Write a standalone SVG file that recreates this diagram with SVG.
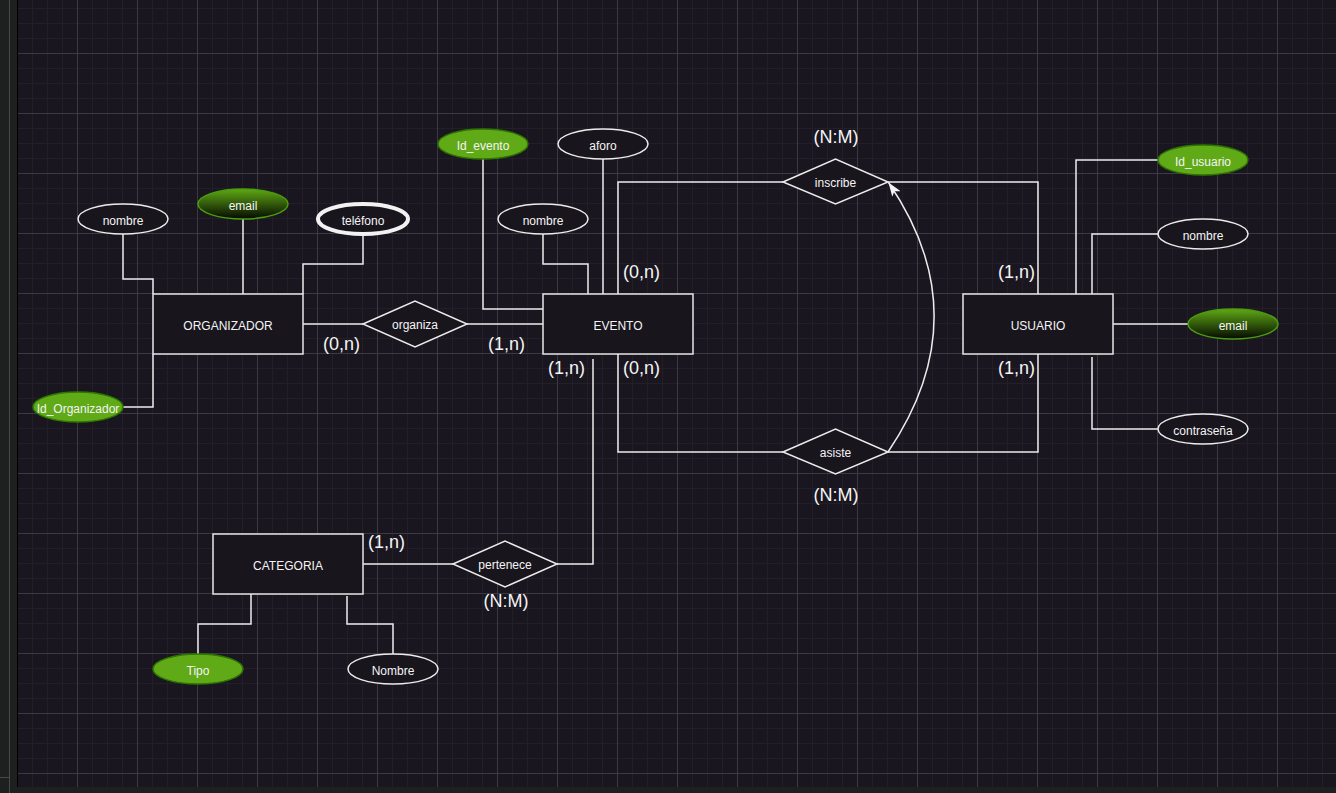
<svg xmlns="http://www.w3.org/2000/svg" width="1336" height="793" viewBox="0 0 1336 793">
<style>
.bg{fill:#19161f}
.ent{fill:#18151d;stroke:#e6e6e6;stroke-width:1.5}
.rel{fill:#18151d;stroke:#ececec;stroke-width:1.5}
.att{fill:#18151d;stroke:#ececec;stroke-width:1.5}
.multi{fill:#18151d;stroke:#f2f2f2;stroke-width:4}
.key{fill:#60a917;stroke:#2d7600;stroke-width:1.5}
.grad{fill:url(#gr);stroke:#4a9e0e;stroke-width:1.5}
.t{font-family:"Liberation Sans",Arial,Helvetica,sans-serif;font-size:12px;fill:#f4f4f4;text-anchor:middle}
.card{font-family:"Liberation Sans",Arial,Helvetica,sans-serif;font-size:18px;fill:#f4f4f4}
.ln{fill:none;stroke:#ececec;stroke-width:1.5}
</style>
<defs>
<pattern id="grid" patternUnits="userSpaceOnUse" x="17" y="-7" width="60" height="60">
<rect width="60" height="60" fill="#19161f"/>
<rect x="15" y="0" width="1" height="60" fill="#231f29"/>
<rect x="30" y="0" width="1" height="60" fill="#231f29"/>
<rect x="45" y="0" width="1" height="60" fill="#231f29"/>
<rect x="0" y="15" width="60" height="1" fill="#231f29"/>
<rect x="0" y="30" width="60" height="1" fill="#231f29"/>
<rect x="0" y="45" width="60" height="1" fill="#231f29"/>
<rect x="0" y="0" width="1" height="60" fill="#3b3942"/>
<rect x="0" y="0" width="60" height="1" fill="#3b3942"/>
</pattern>
<linearGradient id="gr" x1="0" y1="0" x2="0" y2="1">
<stop offset="0" stop-color="#5fa815"/>
<stop offset="1" stop-color="#050a01"/>
</linearGradient>
<marker id="arr" markerUnits="userSpaceOnUse" viewBox="0 0 14 10" refX="14" refY="5" markerWidth="14" markerHeight="10" orient="auto">
<path d="M0,0 L14,5 L0,10 L3.5,5 Z" fill="#f4f4f4"/>
</marker>
</defs>

<rect x="0" y="0" width="1336" height="793" fill="#1e1f1f"/>
<rect x="17" y="0" width="1319" height="787" fill="url(#grid)"/>
<rect x="17" y="0" width="1" height="787" fill="#000"/>
<rect x="9" y="0" width="1" height="793" fill="#474a4a"/>
<rect x="0" y="777" width="9" height="1" fill="#474a4a"/>

<g id="connectors">
<path class="ln" d="M123,234 V279 H153 V294"/>
<path class="ln" d="M243,219 V295"/>
<path class="ln" d="M363,234 V264 H303 V294"/>
<path class="ln" d="M123,407 H153 V354"/>
<path class="ln" d="M303,324 H363"/>
<path class="ln" d="M467,324 H543"/>
<path class="ln" d="M483,159 V309 H543"/>
<path class="ln" d="M603,159 V294"/>
<path class="ln" d="M543,234 V264 H588 V294"/>
<path class="ln" d="M618,294 V182 H783"/>
<path class="ln" d="M618,354 V452 H783"/>
<path class="ln" d="M593,359 V564 H557"/>
<path class="ln" d="M888,182 H1038 V294"/>
<path class="ln" d="M888,452 H1038 V354"/>
<path class="ln" d="M888,452 Q980,316 888.5,182.5" marker-end="url(#arr)"/>
<path class="ln" d="M1158,160 H1076 V294"/>
<path class="ln" d="M1158,234 H1092 V294"/>
<path class="ln" d="M1113,324 H1188"/>
<path class="ln" d="M1158,429 H1092 V357"/>
<path class="ln" d="M363,564 H453"/>
<path class="ln" d="M198,654 V624 H251 V594"/>
<path class="ln" d="M393,654 V624 H347 V596"/>
</g>

<g id="organizador"><rect class="ent" x="153" y="294" width="150" height="60"/><text class="t" x="228" y="330">ORGANIZADOR</text></g>
<g id="org-nombre"><ellipse class="att" cx="123" cy="219" rx="45" ry="15"/><text class="t" x="123" y="225">nombre</text></g>
<g id="org-email"><ellipse class="grad" cx="243" cy="204" rx="45" ry="15"/><text class="t" x="243" y="210">email</text></g>
<g id="org-telefono"><ellipse class="multi" cx="363" cy="219" rx="45" ry="15"/><text class="t" x="363" y="225">teléfono</text></g>
<g id="org-id"><ellipse class="key" cx="78" cy="407" rx="45" ry="15"/><text class="t" x="78" y="413">Id_Organizador</text></g>

<g id="organiza"><polygon class="rel" points="363,324 415,301 467,324 415,347"/><text class="t" x="415" y="329">organiza</text></g>

<g id="evento"><rect class="ent" x="543" y="294" width="150" height="60"/><text class="t" x="618" y="330">EVENTO</text></g>
<g id="ev-id"><ellipse class="key" cx="483" cy="144" rx="45" ry="15"/><text class="t" x="483" y="150">Id_evento</text></g>
<g id="ev-aforo"><ellipse class="att" cx="603" cy="144" rx="45" ry="15"/><text class="t" x="603" y="150">aforo</text></g>
<g id="ev-nombre"><ellipse class="att" cx="543" cy="219" rx="45" ry="15"/><text class="t" x="543" y="225">nombre</text></g>

<g id="inscribe"><polygon class="rel" points="783,182 835.5,159 888,182 835.5,204"/><text class="t" x="835.5" y="187">inscribe</text></g>
<g id="asiste"><polygon class="rel" points="783,452 835.5,429 888,452 835.5,474"/><text class="t" x="835.5" y="457">asiste</text></g>

<g id="usuario"><rect class="ent" x="963" y="294" width="150" height="60"/><text class="t" x="1038" y="330">USUARIO</text></g>
<g id="us-id"><ellipse class="key" cx="1203" cy="160" rx="45" ry="15"/><text class="t" x="1203" y="166">Id_usuario</text></g>
<g id="us-nombre"><ellipse class="att" cx="1203" cy="234" rx="45" ry="15"/><text class="t" x="1203" y="240">nombre</text></g>
<g id="us-email"><ellipse class="grad" cx="1233" cy="324" rx="45" ry="15"/><text class="t" x="1233" y="330">email</text></g>
<g id="us-pass"><ellipse class="att" cx="1203" cy="429" rx="45" ry="15"/><text class="t" x="1203" y="435">contraseña</text></g>

<g id="categoria"><rect class="ent" x="213" y="534" width="150" height="60"/><text class="t" x="288" y="570">CATEGORIA</text></g>
<g id="cat-tipo"><ellipse class="key" cx="198" cy="669" rx="45" ry="15"/><text class="t" x="198" y="675">Tipo</text></g>
<g id="cat-nombre"><ellipse class="att" cx="393" cy="669" rx="45" ry="15"/><text class="t" x="393" y="675">Nombre</text></g>
<g id="pertenece"><polygon class="rel" points="453,564 505,541 557,564 505,587"/><text class="t" x="505" y="569">pertenece</text></g>

<g id="labels">
<text class="card" x="323" y="350">(0,n)</text>
<text class="card" x="488" y="350">(1,n)</text>
<text class="card" x="623" y="278">(0,n)</text>
<text class="card" x="548" y="374">(1,n)</text>
<text class="card" x="623" y="374">(0,n)</text>
<text class="card" x="836" y="143" text-anchor="middle">(N:M)</text>
<text class="card" x="836" y="501" text-anchor="middle">(N:M)</text>
<text class="card" x="998" y="278">(1,n)</text>
<text class="card" x="998" y="374">(1,n)</text>
<text class="card" x="368" y="548">(1,n)</text>
<text class="card" x="506" y="607" text-anchor="middle">(N:M)</text>
</g>
</svg>
